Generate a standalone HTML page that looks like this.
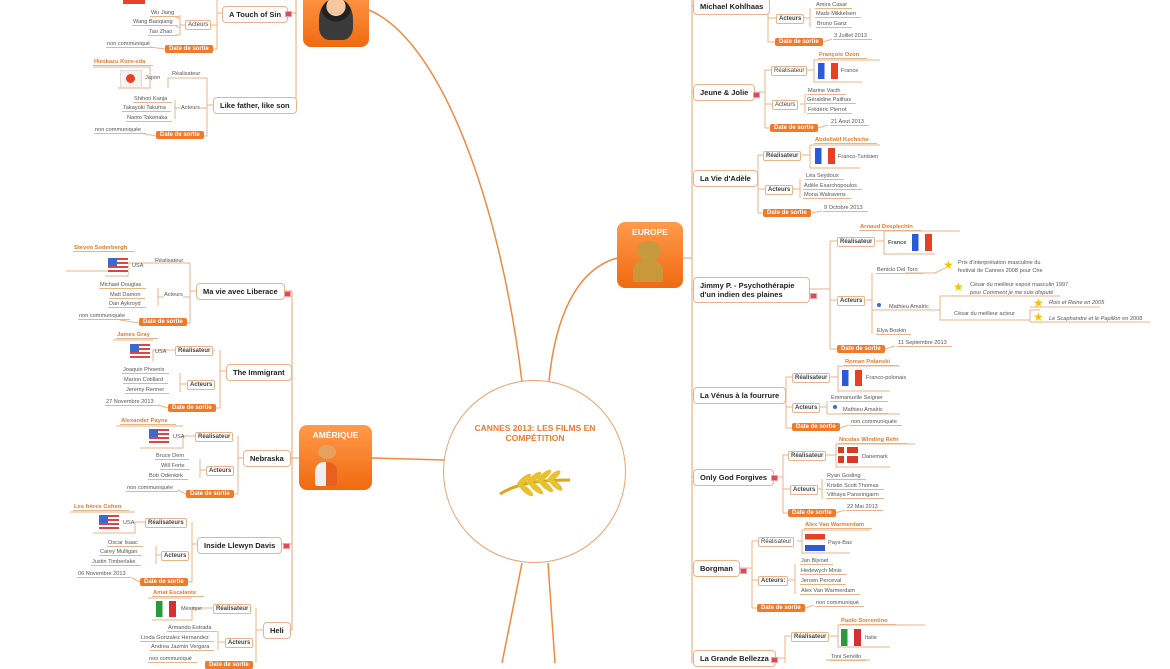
<!DOCTYPE html>
<html><head><meta charset="utf-8">
<style>
body{margin:0;width:1170px;height:663px;overflow:hidden;background:#fff;position:relative;font-family:"Liberation Sans",sans-serif;}
div{position:absolute;white-space:nowrap;}
.t{background:#fff;border:1.5px solid #eab48a;border-radius:4px;font-weight:bold;font-size:7.5px;color:#222;padding:3px 6px;box-sizing:border-box;}
.l{background:#fff;border:1px solid #e8b48a;border-radius:2px;font-size:6px;color:#444;padding:1px 2px;}
.lb{font-weight:bold;}
.d{background:#f07a28;border-radius:2px;font-size:6px;color:#fff;font-weight:bold;padding:1px 4px;}
.u{font-size:5.6px;color:#555;border-bottom:1px solid #e8b48a;padding:0 5px 0 1px;}
.o{font-size:5.8px;color:#e87a2a;font-weight:bold;border-bottom:1px solid #e8b48a;padding:0 8px 0 1px;}
.s{font-size:5.6px;color:#555;}
.fb{border:1px solid #e8b48a;border-top:none;border-left:none;}
.box{border-radius:8px;background:linear-gradient(#ff9a4a,#f06a10);color:#fff;font-weight:bold;font-size:8.5px;text-align:center;}
.red{width:5px;height:4px;background:#d94a5a;border:1px solid #f0a0a0;}
.star{color:#f4c400;font-size:12px;line-height:12px;}
</style></head><body>
<svg width="1170" height="663" style="position:absolute;left:0;top:0" fill="none">
<g stroke="#ef8a40" stroke-width="1.5">
<path d="M369 10 C440 40 500 200 522 382"/>
<path d="M617 258 C575 270 555 320 549 381"/>
<path d="M522 563 L502 663"/><path d="M548 563 L555 663"/>
<path d="M372 458 L444 460"/>
</g>
<g stroke="#eab48a" stroke-width="1.2">
<path d="M296 0 V105 M281 13 H296 M293 105 H296"/>
<path d="M692 0 V663 M683 258 H692"/>
<path d="M292 291 V630 M280 291 H292 M290 371 H292 M289 458 H299 M279 544 H292 M290 630 H292"/>
<path d="M692 6 H693 M692 92 H693 M692 178 H693 M692 289 H693 M692 395 H693 M692 477 H693 M692 568 H693 M692 658 H693"/>
</g>
<g stroke="#eab48a" stroke-width="1">
<!-- Asia -->
<path d="M222 13 H217 M217 0 V49 H212 M211 25 H217 M185 25 H180 M180 15 V35 M180 18 H176 M180 27 H176 M180 35 H176 M165 49 L150 47"/>
<path d="M213 105 H207 M207 78 V136 H202 M207 78 H168 V88 M207 108 H200 M181 108 H175 M175 100 V119 M156 136 L140 133 M93 67 H150 V88 H118"/>
<!-- Liberace -->
<path d="M196 291 H190 M190 263 V323 H186 M190 263 H128 V276 H105 M190 297 H183 M164 297 H158 M158 288 V306 M66 271 H128"/>
<path d="M139 323 L120 320"/>
<!-- Immigrant -->
<path d="M226 371 H220 M220 350 V408 H215 M215 350 H153 V361 M187 384 H180 M180 373 V392 M168 408 L158 405 M113 340 H153"/>
<!-- Nebraska -->
<path d="M243 458 H238 M238 436 V494 H234 M195 436 H183 V448 H140 M234 470 H230 M206 470 H200 M200 459 V478 M186 494 L178 490 M116 426 H183"/>
<!-- Llewyn -->
<path d="M197 544 H192 M192 522 V582 H188 M145 522 H135 V533 H93 M187 555 H182 M161 555 H156 M156 546 V564 M140 582 L132 578 M70 512 H135"/>
<!-- Heli -->
<path d="M263 630 H256 M256 608 V663 M252 608 H246 M213 608 H192 V620 H152 M252 642 H246 M225 642 H218 M218 631 V650 M148 598 H192"/>
<!-- Right: Kohlhaas -->
<path d="M763 6 H768 V42 H775 M768 18 H776 M803 18 H810 M810 8 V27 M823 42 L832 39"/>
<!-- Jeune -->
<path d="M755 92 H765 V70 H771 M765 104 H772 M765 128 H770 M765 92 V128 M807 70 H814 M814 60 H880 M814 60 V82 H862 M800 104 H805 M805 94 V113 M818 128 L828 125"/>
<!-- Adele -->
<path d="M755 178 H758 M758 155 V213 H763 M758 155 H763 M758 189 H765 M802 155 H810 M810 145 H880 M810 145 V168 H860 M792 189 H800 M800 179 V198 M812 213 L822 211"/>
<!-- Jimmy -->
<path d="M810 289 H830 M830 241 V349 H837 M830 241 H837 M830 300 H837 M876 241 H884 M884 231 H960 M884 231 V254 H935 M866 300 H872 M872 273 V334 M872 310 H940 M905 273 H935 M935 273 L945 268 M940 310 V296 H1060 M940 310 V320 H1030 M1030 310 V322 M1030 310 H1040 M1030 322 H1150 M1030 307 H1100 M885 349 L895 346"/>
<!-- Venus -->
<path d="M782 395 H786 V377 H792 M786 407 H792 M786 428 H792 M786 377 V428 M830 377 H838 M838 366 H900 M838 366 V391 H890 M820 407 H827 M827 401 V414 H900 M840 428 L849 425"/>
<!-- Only God -->
<path d="M768 477 H783 V455 H788 M783 489 H790 M783 513 H788 M783 455 V513 M826 455 H836 M836 444 H915 M836 444 V467 H890 M815 489 H822 M822 479 V499 M835 513 L845 510"/>
<!-- Borgman -->
<path d="M738 568 H752 V541 H758 M752 580 H758 M752 608 H757 M752 541 V608 M797 541 H802 M802 530 H870 M802 530 V553 H850 M786 580 H795 M795 564 V594 M805 608 L814 605"/>
<!-- Grande -->
<path d="M768 658 H785 V636 H791 M785 663 V636 M830 636 H838 M838 625 H925 M838 625 V647 H890 M826 660 H870"/>
</g>
</svg>

<!-- Asia -->
<div class="box" style="left:303px;top:-10px;width:66px;height:57px;"></div>
<div style="left:319px;top:-2px;width:34px;height:42px;border-radius:50% 50% 30% 30%;background:radial-gradient(circle at 50% 20%,#f6c8a0 0 25%,#222 26% 40%,#3a3a3a 41%);"></div>
<div style="left:123px;top:-4px;width:22px;height:8px;background:#e8402a;"></div>
<div class="t" style="left:222px;top:6px;">A Touch of Sin</div>
<div class="red" style="left:285px;top:11px;"></div>
<div class="u" style="left:150px;top:10px;">Wu Jiang</div>
<div class="u" style="left:132px;top:19px;">Wang Baoqiang</div>
<div class="u" style="left:148px;top:29px;">Tao Zhao</div>
<div class="l" style="left:185px;top:20px;">Acteurs</div>
<div class="u" style="left:106px;top:41px;">non communiqué</div>
<div class="d" style="left:165px;top:45px;">Date de sortie</div>
<div class="o" style="left:93px;top:59px;">Hirokazu Kore-eda</div>
<div style="left:120px;top:70px;width:20px;height:16px;background:#f4f4f4;border:1px solid #ddd;"><div style="left:5px;top:3px;width:9px;height:9px;border-radius:50%;background:#e84020;"></div></div>
<div class="s" style="left:145px;top:75px;">Japon</div>
<div class="s" style="left:172px;top:71px;">Réalisateur</div>
<div class="u" style="left:133px;top:96px;">Shihori Kanja</div>
<div class="u" style="left:122px;top:105px;">Takayuki Takuma</div>
<div class="u" style="left:126px;top:115px;">Naoto Takenaka</div>
<div class="s" style="left:181px;top:105px;">Acteurs</div>
<div class="t" style="left:213px;top:97px;">Like father, like son</div>
<div class="u" style="left:94px;top:127px;">non communiquée</div>
<div class="d" style="left:156px;top:131px;">Date de sortie</div>

<!-- Amerique -->
<div class="box" style="left:299px;top:425px;width:73px;height:65px;padding-top:5px;box-sizing:border-box;">AMÉRIQUE</div>
<div style="left:318px;top:445px;width:18px;height:14px;border-radius:50%;background:#e8a060;"></div>
<div style="left:315px;top:462px;width:22px;height:24px;border-radius:40% 40% 10% 10%;background:linear-gradient(90deg,#eee 50%,#e86020 50%);"></div>

<div class="o" style="left:73px;top:245px;">Steven Soderbergh</div>
<div style="left:108px;top:258px;width:20px;height:16px;background:repeating-linear-gradient(#d44 0 2px,#fff 2px 4px);"><div style="left:0;top:0;width:9px;height:8px;background:#3a6ad0;"></div></div>
<div class="s" style="left:132px;top:263px;">USA</div>
<div class="s" style="left:155px;top:258px;">Réalisateur</div>
<div class="u" style="left:99px;top:282px;">Michael Douglas</div>
<div class="u" style="left:109px;top:292px;">Matt Damon</div>
<div class="u" style="left:108px;top:301px;">Dan Aykroyd</div>
<div class="s" style="left:164px;top:292px;">Acteurs</div>
<div class="t" style="left:196px;top:283px;">Ma vie avec Liberace</div>
<div class="red" style="left:284px;top:291px;"></div>
<div class="u" style="left:78px;top:313px;">non communiquée</div>
<div class="d" style="left:139px;top:318px;">Date de sortie</div>

<div class="o" style="left:116px;top:332px;">James Gray</div>
<div style="left:130px;top:344px;width:20px;height:16px;background:repeating-linear-gradient(#d44 0 2px,#fff 2px 4px);"><div style="left:0;top:0;width:9px;height:8px;background:#3a6ad0;"></div></div>
<div class="s" style="left:155px;top:349px;">USA</div>
<div class="l lb" style="left:175px;top:346px;">Réalisateur</div>
<div class="u" style="left:122px;top:367px;">Joaquin Phoenix</div>
<div class="u" style="left:123px;top:377px;">Marion Cotillard</div>
<div class="u" style="left:125px;top:387px;">Jeremy Renner</div>
<div class="l lb" style="left:187px;top:380px;">Acteurs</div>
<div class="t" style="left:226px;top:364px;">The Immigrant</div>
<div class="u" style="left:105px;top:399px;">27 Novembre 2013</div>
<div class="d" style="left:168px;top:404px;">Date de sortie</div>

<div class="o" style="left:120px;top:418px;">Alexander Payne</div>
<div style="left:149px;top:429px;width:20px;height:16px;background:repeating-linear-gradient(#d44 0 2px,#fff 2px 4px);"><div style="left:0;top:0;width:9px;height:8px;background:#3a6ad0;"></div></div>
<div class="s" style="left:173px;top:434px;">USA</div>
<div class="l lb" style="left:195px;top:432px;">Réalisateur</div>
<div class="u" style="left:155px;top:453px;">Bruce Dern</div>
<div class="u" style="left:160px;top:463px;">Will Forte</div>
<div class="u" style="left:148px;top:473px;">Bob Odenkirk</div>
<div class="l lb" style="left:206px;top:466px;">Acteurs</div>
<div class="t" style="left:243px;top:450px;">Nebraska</div>
<div class="u" style="left:126px;top:485px;">non communiquée</div>
<div class="d" style="left:186px;top:490px;">Date de sortie</div>

<div class="o" style="left:73px;top:504px;">Les frères Cohen</div>
<div style="left:99px;top:515px;width:20px;height:16px;background:repeating-linear-gradient(#d44 0 2px,#fff 2px 4px);"><div style="left:0;top:0;width:9px;height:8px;background:#3a6ad0;"></div></div>
<div class="s" style="left:123px;top:520px;">USA</div>
<div class="l lb" style="left:145px;top:518px;">Réalisateurs</div>
<div class="u" style="left:107px;top:540px;">Oscar Isaac</div>
<div class="u" style="left:99px;top:549px;">Carey Mulligan</div>
<div class="u" style="left:91px;top:559px;">Justin Timberlake</div>
<div class="l lb" style="left:161px;top:551px;">Acteurs</div>
<div class="t" style="left:197px;top:537px;">Inside Llewyn Davis</div>
<div class="red" style="left:283px;top:543px;"></div>
<div class="u" style="left:77px;top:571px;">06 Novembre 2013</div>
<div class="d" style="left:140px;top:578px;">Date de sortie</div>

<div class="o" style="left:152px;top:590px;">Amat Escalante</div>
<div style="left:156px;top:601px;width:20px;height:16px;background:linear-gradient(90deg,#2a9a3a 33%,#fff 33% 66%,#d83030 66%);"></div>
<div class="s" style="left:181px;top:606px;">Mexique</div>
<div class="l lb" style="left:213px;top:604px;">Réalisateur</div>
<div class="u" style="left:167px;top:625px;">Armando Estrada</div>
<div class="u" style="left:140px;top:635px;">Linda Gonzalez Hernandez</div>
<div class="u" style="left:150px;top:644px;">Andrea Jazmin Vergara</div>
<div class="l lb" style="left:225px;top:638px;">Acteurs</div>
<div class="t" style="left:263px;top:622px;">Heli</div>
<div class="u" style="left:148px;top:656px;">non communiqué</div>
<div class="d" style="left:205px;top:661px;">Date de sortie</div>

<!-- Center -->
<div style="left:443px;top:380px;width:181px;height:181px;border:1px solid #eea070;border-radius:50%;background:#fff;"></div>
<div style="left:455px;top:423px;width:160px;text-align:center;white-space:normal;color:#ee7a2a;font-weight:bold;font-size:8.5px;line-height:10px;">CANNES 2013: LES FILMS EN COMPÉTITION</div>
<svg style="position:absolute;left:496px;top:470px" width="78" height="30"><path d="M4 24 C20 14 40 10 74 10" stroke="#d8a818" stroke-width="3" fill="none"/><g fill="#e8c030"><ellipse cx="28" cy="10" rx="9" ry="3" transform="rotate(-40 28 10)"/><ellipse cx="38" cy="8" rx="9" ry="3" transform="rotate(-40 38 8)"/><ellipse cx="48" cy="6" rx="9" ry="3" transform="rotate(-40 48 6)"/><ellipse cx="58" cy="6" rx="8" ry="3" transform="rotate(-40 58 6)"/><ellipse cx="30" cy="20" rx="9" ry="3" transform="rotate(40 30 20)"/><ellipse cx="40" cy="18" rx="9" ry="3" transform="rotate(40 40 18)"/><ellipse cx="50" cy="16" rx="9" ry="3" transform="rotate(40 50 16)"/><ellipse cx="60" cy="15" rx="8" ry="3" transform="rotate(40 60 15)"/></g></svg>

<!-- Europe -->
<div class="box" style="left:617px;top:222px;width:66px;height:66px;padding-top:5px;box-sizing:border-box;">EUROPE</div>
<div style="left:637px;top:241px;width:24px;height:20px;border-radius:50%;background:#c89a40;"></div>
<div style="left:633px;top:260px;width:30px;height:22px;border-radius:40% 40% 10% 10%;background:#c8983a;"></div>

<div class="t" style="left:693px;top:-2px;">Michael Kohlhaas</div>
<div class="u" style="left:815px;top:2px;">Amira Casar</div>
<div class="u" style="left:815px;top:11px;">Mads Mikkelsen</div>
<div class="u" style="left:816px;top:21px;">Bruno Ganz</div>
<div class="l lb" style="left:776px;top:14px;">Acteurs</div>
<div class="d" style="left:775px;top:38px;">Date de sortie</div>
<div class="u" style="left:833px;top:33px;">3 Juillet 2013</div>

<div class="o" style="left:818px;top:52px;">François Ozon</div>
<div class="l" style="left:771px;top:66px;">Réalisateur</div>
<div style="left:818px;top:63px;width:20px;height:16px;background:linear-gradient(90deg,#2a5ad8 33%,#fff 33% 66%,#e84020 66%);"></div>
<div class="s" style="left:841px;top:68px;">France</div>
<div class="t" style="left:693px;top:84px;">Jeune &amp; Jolie</div>
<div class="red" style="left:753px;top:92px;"></div>
<div class="u" style="left:807px;top:88px;">Marine Vacth</div>
<div class="u" style="left:806px;top:97px;">Géraldine Pailhas</div>
<div class="u" style="left:807px;top:107px;">Frédéric Pierrot</div>
<div class="l" style="left:772px;top:100px;">Acteurs</div>
<div class="d" style="left:770px;top:124px;">Date de sortie</div>
<div class="u" style="left:830px;top:119px;">21 Aout 2013</div>

<div class="o" style="left:814px;top:137px;">Abdellatif Kechiche</div>
<div class="l lb" style="left:763px;top:151px;">Réalisateur</div>
<div style="left:815px;top:148px;width:20px;height:16px;background:linear-gradient(90deg,#2a5ad8 33%,#fff 33% 66%,#e84020 66%);"></div>
<div class="s" style="left:838px;top:154px;">Franco-Tunisien</div>
<div class="t" style="left:693px;top:170px;">La Vie d'Adèle</div>
<div class="u" style="left:805px;top:173px;">Léa Seydoux</div>
<div class="u" style="left:803px;top:183px;">Adèle Exarchopoulos</div>
<div class="u" style="left:803px;top:192px;">Mona Walravens</div>
<div class="l lb" style="left:765px;top:185px;">Acteurs</div>
<div class="d" style="left:763px;top:209px;">Date de sortie</div>
<div class="u" style="left:823px;top:205px;">9 Octobre 2013</div>

<div class="o" style="left:859px;top:224px;">Arnaud Desplechin</div>
<div class="l lb" style="left:837px;top:237px;">Réalisateur</div>
<div class="s lb" style="left:888px;top:240px;">France</div>
<div style="left:912px;top:234px;width:20px;height:17px;background:linear-gradient(90deg,#2a5ad8 33%,#fff 33% 66%,#e84020 66%);"></div>
<div class="t" style="left:693px;top:277px;width:117px;white-space:normal;line-height:9px;">Jimmy P. - Psychothérapie d'un indien des plaines</div>
<div class="red" style="left:810px;top:293px;"></div>
<div class="l lb" style="left:837px;top:296px;">Acteurs</div>
<div class="u" style="left:876px;top:267px;">Benicio Del Toro</div>
<div class="star" style="left:943px;top:259px;">★</div>
<div class="s" style="left:958px;top:259px;line-height:8px;">Prix d'interprétation masculine du<br>festival de Cannes 2008 pour Che</div>
<div class="star" style="left:953px;top:281px;">★</div>
<div class="s" style="left:970px;top:281px;line-height:8px;">César du meilleur espoir masculin 1997<br>pour <i>Comment je me suis disputé</i></div>
<div style="left:877px;top:303px;width:4px;height:4px;border-radius:50%;background:#3a6ad8;"></div>
<div class="s" style="left:889px;top:304px;">Mathieu Amalric</div>
<div class="s" style="left:954px;top:311px;">César du meilleur acteur</div>
<div class="star" style="left:1033px;top:297px;">★</div>
<div class="s" style="left:1049px;top:300px;font-style:italic;">Rois et Reine en 2005</div>
<div class="star" style="left:1033px;top:311px;">★</div>
<div class="s" style="left:1049px;top:316px;"><i>Le Scaphandre et le Papillon</i> en 2008</div>
<div class="u" style="left:876px;top:328px;">Elya Boskin</div>
<div class="d" style="left:837px;top:345px;">Date de sortie</div>
<div class="u" style="left:897px;top:340px;">11 Septembre 2013</div>

<div class="o" style="left:844px;top:359px;">Roman Polanski</div>
<div class="l lb" style="left:792px;top:373px;">Réalisateur</div>
<div style="left:842px;top:370px;width:20px;height:16px;background:linear-gradient(90deg,#2a5ad8 33%,#fff 33% 66%,#e84020 66%);"></div>
<div class="s" style="left:866px;top:375px;">Franco-polonais</div>
<div class="t" style="left:693px;top:387px;">La Vénus à la fourrure</div>
<div class="u" style="left:830px;top:395px;">Emmanuelle Seigner</div>
<div style="left:833px;top:405px;width:4px;height:4px;border-radius:50%;background:#3a6ad8;"></div>
<div class="u" style="left:842px;top:407px;">Mathieu Amalric</div>
<div class="l lb" style="left:792px;top:403px;">Acteurs</div>
<div class="d" style="left:792px;top:423px;">Date de sortie</div>
<div class="u" style="left:850px;top:419px;">non communiquée</div>

<div class="o" style="left:838px;top:437px;">Nicolas Winding Refn</div>
<div class="l lb" style="left:788px;top:451px;">Réalisateur</div>
<div style="left:838px;top:447px;width:20px;height:16px;background:#d83a28;"><div style="left:6px;top:0;width:3px;height:16px;background:#fff;"></div><div style="left:0;top:6px;width:20px;height:3px;background:#fff;"></div></div>
<div class="s" style="left:862px;top:454px;">Danemark</div>
<div class="t" style="left:693px;top:469px;">Only God Forgives</div>
<div class="red" style="left:771px;top:475px;"></div>
<div class="u" style="left:826px;top:473px;">Ryan Gosling</div>
<div class="u" style="left:826px;top:483px;">Kristin Scott Thomas</div>
<div class="u" style="left:826px;top:492px;">Vithaya Pansringarm</div>
<div class="l lb" style="left:790px;top:485px;">Acteurs</div>
<div class="d" style="left:788px;top:509px;">Date de sortie</div>
<div class="u" style="left:846px;top:504px;">22 Mai 2013</div>

<div class="o" style="left:804px;top:522px;">Alex Van Warmerdam</div>
<div class="l" style="left:758px;top:537px;">Réalisateur</div>
<div style="left:805px;top:534px;width:20px;height:17px;background:linear-gradient(#e84020 33%,#fff 33% 66%,#2a5ad8 66%);"></div>
<div class="s" style="left:828px;top:540px;">Pays-Bas</div>
<div class="t" style="left:693px;top:560px;">Borgman</div>
<div class="red" style="left:740px;top:568px;"></div>
<div class="u" style="left:800px;top:558px;">Jan Bijvoet</div>
<div class="u" style="left:800px;top:568px;">Hedewych Minis</div>
<div class="u" style="left:800px;top:578px;">Jeroen Perceval</div>
<div class="u" style="left:800px;top:588px;">Alex Van Warmerdam</div>
<div class="l lb" style="left:758px;top:576px;">Acteurs:</div>
<div class="d" style="left:757px;top:604px;">Date de sortie</div>
<div class="u" style="left:815px;top:600px;">non communiqué</div>

<div class="o" style="left:840px;top:618px;">Paolo Sorrentino</div>
<div class="l lb" style="left:791px;top:632px;">Réalisateur</div>
<div style="left:841px;top:629px;width:20px;height:17px;background:linear-gradient(90deg,#2a9a3a 33%,#fff 33% 66%,#d83030 66%);"></div>
<div class="s" style="left:865px;top:635px;">Italie</div>
<div class="t" style="left:693px;top:650px;">La Grande Bellezza</div>
<div class="red" style="left:771px;top:657px;"></div>
<div class="u" style="left:830px;top:654px;">Toni Servillo</div>
</body></html>
